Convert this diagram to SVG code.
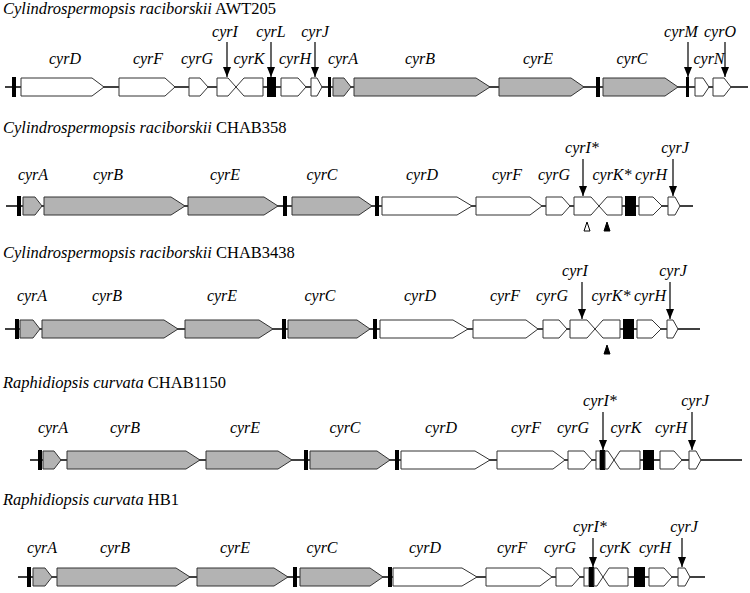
<svg xmlns="http://www.w3.org/2000/svg" width="750" height="593" viewBox="0 0 750 593">
<style>
.ttl{font-family:"Liberation Serif","Times New Roman",serif;font-size:16.5px;fill:#000}
.it{font-style:italic}
.lab{font-family:"Liberation Serif","Times New Roman",serif;font-size:16px;font-style:italic;fill:#000;text-anchor:middle}
.ln{stroke:#000;stroke-width:1.6;fill:none}
.g{fill:#b3b3b3;stroke:#333;stroke-width:1}
.w{fill:#fff;stroke:#333;stroke-width:1}
.bk{fill:#000;stroke:none}
.arr{stroke:#000;stroke-width:1.2;fill:none;marker-end:url(#ah)}
.tri{stroke:#000;stroke-width:1}
</style>
<defs>
<marker id="ah" viewBox="0 0 10 8" refX="10" refY="4" markerWidth="10" markerHeight="8" markerUnits="userSpaceOnUse" orient="auto">
<path d="M0,0 L10,4 L0,8 z" fill="#000"/>
</marker>
</defs>

<!-- Row 1 -->
<g id="row1">
<text class="ttl" x="3" y="14"><tspan class="it">Cylindrospermopsis raciborskii</tspan> AWT205</text>
<line class="ln" x1="5" y1="87" x2="748" y2="87"/>
<rect class="bk" x="12" y="77" width="4" height="20"/>
<g id="r1-cyrD"><polygon class="w" points="21,78 92,78 104,87 92,96 21,96"/><text class="lab" x="65" y="64">cyrD</text></g>
<g id="r1-cyrF"><polygon class="w" points="119,78 165,78 175,87 165,96 119,96"/><text class="lab" x="148" y="64">cyrF</text></g>
<g id="r1-cyrG"><polygon class="w" points="189,78 200,78 208,87 200,96 189,96"/><text class="lab" x="197" y="64">cyrG</text></g>
<g id="r1-cyrI"><polygon class="w" points="217,78 228,78 236,87 228,96 217,96"/><text class="lab" x="225" y="37">cyrI</text></g>
<g id="r1-cyrK"><polygon class="w" points="236,87 244,78 263,78 263,96 244,96"/><text class="lab" x="249" y="64">cyrK</text></g>
<g id="r1-cyrL"><rect class="bk" x="267" y="77" width="9" height="20"/><text class="lab" x="271" y="37">cyrL</text></g>
<g id="r1-cyrH"><polygon class="w" points="281,78 298,78 306,87 298,96 281,96"/><text class="lab" x="295" y="64">cyrH</text></g>
<g id="r1-cyrJ"><polygon class="w" points="311,78 317,78 322,87 317,96 311,96"/><text class="lab" x="315" y="37">cyrJ</text></g>
<rect class="bk" x="328" y="77" width="3" height="20"/>
<g id="r1-cyrA"><polygon class="g" points="333,78 344,78 351,87 344,96 333,96"/><text class="lab" x="343" y="64">cyrA</text></g>
<g id="r1-cyrB"><polygon class="g" points="354,78 476,78 490,87 476,96 354,96"/><text class="lab" x="420" y="64">cyrB</text></g>
<g id="r1-cyrE"><polygon class="g" points="499,78 571,78 584,87 571,96 499,96"/><text class="lab" x="538" y="64">cyrE</text></g>
<rect class="bk" x="596" y="77" width="4" height="20"/>
<g id="r1-cyrC"><polygon class="g" points="603,78 665,78 678,87 665,96 603,96"/><text class="lab" x="632" y="64">cyrC</text></g>
<g id="r1-cyrM"><rect class="bk" x="686" y="77" width="3" height="20"/><text class="lab" x="681" y="37">cyrM</text></g>
<g id="r1-cyrN"><polygon class="w" points="695,78 703,78 709,87 703,96 695,96"/><text class="lab" x="709" y="64">cyrN</text></g>
<g id="r1-cyrO"><polygon class="w" points="713,78 724,78 731,87 724,96 713,96"/><text class="lab" x="720" y="37">cyrO</text></g>
</g>

<!-- Row 2 -->
<g id="row2">
<text class="ttl" x="3" y="133"><tspan class="it">Cylindrospermopsis raciborskii</tspan> CHAB358</text>
<line class="ln" x1="6" y1="206" x2="693" y2="206"/>
<rect class="bk" x="17" y="196" width="4" height="20"/>
<g id="r2-cyrA"><polygon class="g" points="23,197 35,197 42,206 35,215 23,215"/><text class="lab" x="33" y="180">cyrA</text></g>
<g id="r2-cyrB"><polygon class="g" points="44,197 171,197 185,206 171,215 44,215"/><text class="lab" x="108" y="180">cyrB</text></g>
<g id="r2-cyrE"><polygon class="g" points="188,197 264,197 278,206 264,215 188,215"/><text class="lab" x="225" y="180">cyrE</text></g>
<rect class="bk" x="283" y="196" width="4" height="20"/>
<g id="r2-cyrC"><polygon class="g" points="292,197 359,197 372,206 359,215 292,215"/><text class="lab" x="322" y="180">cyrC</text></g>
<rect class="bk" x="375" y="196" width="4" height="20"/>
<g id="r2-cyrD"><polygon class="w" points="382,197 457,197 472,206 457,215 382,215"/><text class="lab" x="422" y="180">cyrD</text></g>
<g id="r2-cyrF"><polygon class="w" points="476,197 530,197 542,206 530,215 476,215"/><text class="lab" x="507" y="180">cyrF</text></g>
<g id="r2-cyrG"><polygon class="w" points="546,197 562,197 570,206 562,215 546,215"/><text class="lab" x="554" y="180">cyrG</text></g>
<g id="r2-cyrI"><polygon class="w" points="574,197 591,197 599,206 591,215 574,215"/><text class="lab" x="582" y="153">cyrI*</text><polygon class="tri" fill="#fff" points="587,222 584,231 590,231"/></g>
<g id="r2-cyrK"><polygon class="w" points="599,206 607,197 622,197 622,215 607,215"/><text class="lab" x="612" y="180">cyrK*</text><polygon class="tri" fill="#000" points="607,222 604,231 610,231"/></g>
<rect class="bk" x="625" y="196" width="11" height="20"/>
<g id="r2-cyrH"><polygon class="w" points="639,197 653,197 662,206 653,215 639,215"/><text class="lab" x="651" y="180">cyrH</text></g>
<g id="r2-cyrJ"><polygon class="w" points="668,197 675,197 680,206 675,215 668,215"/><text class="lab" x="675" y="153">cyrJ</text></g>
</g>

<!-- Row 3 -->
<g id="row3">
<text class="ttl" x="3" y="258"><tspan class="it">Cylindrospermopsis raciborskii</tspan> CHAB3438</text>
<line class="ln" x1="5" y1="329" x2="700" y2="329"/>
<rect class="bk" x="15" y="319" width="4" height="20"/>
<g id="r3-cyrA"><polygon class="g" points="20,320 33,320 40,329 33,338 20,338"/><text class="lab" x="32" y="301">cyrA</text></g>
<g id="r3-cyrB"><polygon class="g" points="42,320 164,320 178,329 164,338 42,338"/><text class="lab" x="107" y="301">cyrB</text></g>
<g id="r3-cyrE"><polygon class="g" points="185,320 259,320 273,329 259,338 185,338"/><text class="lab" x="222" y="301">cyrE</text></g>
<rect class="bk" x="282" y="319" width="4" height="20"/>
<g id="r3-cyrC"><polygon class="g" points="288,320 357,320 370,329 357,338 288,338"/><text class="lab" x="320" y="301">cyrC</text></g>
<rect class="bk" x="373" y="319" width="4" height="20"/>
<g id="r3-cyrD"><polygon class="w" points="380,320 453,320 468,329 453,338 380,338"/><text class="lab" x="420" y="301">cyrD</text></g>
<g id="r3-cyrF"><polygon class="w" points="473,320 526,320 538,329 526,338 473,338"/><text class="lab" x="505" y="301">cyrF</text></g>
<g id="r3-cyrG"><polygon class="w" points="543,320 559,320 567,329 559,338 543,338"/><text class="lab" x="552" y="301">cyrG</text></g>
<g id="r3-cyrI"><polygon class="w" points="570,320 587,320 595,329 587,338 570,338"/><text class="lab" x="575" y="276">cyrI</text></g>
<g id="r3-cyrK"><polygon class="w" points="595,329 603,320 620,320 620,338 603,338"/><text class="lab" x="611" y="301">cyrK*</text><polygon class="tri" fill="#000" points="607,345 604,354 610,354"/></g>
<rect class="bk" x="623" y="319" width="11" height="20"/>
<g id="r3-cyrH"><polygon class="w" points="637,320 652,320 661,329 652,338 637,338"/><text class="lab" x="650" y="301">cyrH</text></g>
<g id="r3-cyrJ"><polygon class="w" points="667,320 673,320 678,329 673,338 667,338"/><text class="lab" x="673" y="276">cyrJ</text></g>
</g>

<!-- Row 4 -->
<g id="row4">
<text class="ttl" x="3" y="388"><tspan class="it">Raphidiopsis curvata</tspan> CHAB1150</text>
<line class="ln" x1="30" y1="460" x2="742" y2="460"/>
<rect class="bk" x="38" y="450" width="4" height="20"/>
<g id="r4-cyrA"><polygon class="g" points="43,451 54,451 61,460 54,469 43,469"/><text class="lab" x="53" y="433">cyrA</text></g>
<g id="r4-cyrB"><polygon class="g" points="67,451 186,451 200,460 186,469 67,469"/><text class="lab" x="125" y="433">cyrB</text></g>
<g id="r4-cyrE"><polygon class="g" points="206,451 278,451 292,460 278,469 206,469"/><text class="lab" x="245" y="433">cyrE</text></g>
<rect class="bk" x="304" y="450" width="4" height="20"/>
<g id="r4-cyrC"><polygon class="g" points="310,451 377,451 390,460 377,469 310,469"/><text class="lab" x="345" y="433">cyrC</text></g>
<rect class="bk" x="395" y="450" width="4" height="20"/>
<g id="r4-cyrD"><polygon class="w" points="401,451 475,451 490,460 475,469 401,469"/><text class="lab" x="441" y="433">cyrD</text></g>
<g id="r4-cyrF"><polygon class="w" points="497,451 553,451 565,460 553,469 497,469"/><text class="lab" x="526" y="433">cyrF</text></g>
<g id="r4-cyrG"><polygon class="w" points="568,451 584,451 592,460 584,469 568,469"/><text class="lab" x="573" y="433">cyrG</text></g>
<g id="r4-cyrI"><rect class="w" x="596" y="451" width="4" height="18"/><rect class="bk" x="600" y="450" width="5" height="20"/><polygon class="w" points="605,451 608,451 614,460 608,469 605,469"/><text class="lab" x="600" y="406">cyrI*</text></g>
<g id="r4-cyrK"><polygon class="w" points="614,460 620,451 640,451 640,469 620,469"/><text class="lab" x="626" y="433">cyrK</text></g>
<rect class="bk" x="643" y="450" width="11" height="20"/>
<g id="r4-cyrH"><polygon class="w" points="660,451 674,451 682,460 674,469 660,469"/><text class="lab" x="671" y="433">cyrH</text></g>
<g id="r4-cyrJ"><polygon class="w" points="689,451 696,451 701,460 696,469 689,469"/><text class="lab" x="695" y="406">cyrJ</text></g>
</g>

<!-- Row 5 -->
<g id="row5">
<text class="ttl" x="3" y="505"><tspan class="it">Raphidiopsis curvata</tspan> HB1</text>
<line class="ln" x1="18" y1="577" x2="705" y2="577"/>
<rect class="bk" x="27" y="567" width="4" height="20"/>
<g id="r5-cyrA"><polygon class="g" points="33,568 45,568 52,577 45,586 33,586"/><text class="lab" x="42" y="553">cyrA</text></g>
<g id="r5-cyrB"><polygon class="g" points="57,568 176,568 190,577 176,586 57,586"/><text class="lab" x="115" y="553">cyrB</text></g>
<g id="r5-cyrE"><polygon class="g" points="197,568 274,568 288,577 274,586 197,586"/><text class="lab" x="235" y="553">cyrE</text></g>
<rect class="bk" x="293" y="567" width="4" height="20"/>
<g id="r5-cyrC"><polygon class="g" points="300,568 370,568 383,577 370,586 300,586"/><text class="lab" x="322" y="553">cyrC</text></g>
<rect class="bk" x="388" y="567" width="4" height="20"/>
<g id="r5-cyrD"><polygon class="w" points="393,568 462,568 477,577 462,586 393,586"/><text class="lab" x="425" y="553">cyrD</text></g>
<g id="r5-cyrF"><polygon class="w" points="486,568 540,568 552,577 540,586 486,586"/><text class="lab" x="512" y="553">cyrF</text></g>
<g id="r5-cyrG"><polygon class="w" points="556,568 572,568 580,577 572,586 556,586"/><text class="lab" x="560" y="553">cyrG</text></g>
<g id="r5-cyrI"><rect class="w" x="584" y="568" width="5" height="18"/><rect class="bk" x="589" y="567" width="5" height="20"/><polygon class="w" points="594,568 597,568 603,577 597,586 594,586"/><text class="lab" x="590" y="532">cyrI*</text></g>
<g id="r5-cyrK"><polygon class="w" points="603,577 609,568 628,568 628,586 609,586"/><text class="lab" x="615" y="553">cyrK</text></g>
<rect class="bk" x="634" y="567" width="11" height="20"/>
<g id="r5-cyrH"><polygon class="w" points="649,568 664,568 672,577 664,586 649,586"/><text class="lab" x="655" y="553">cyrH</text></g>
<g id="r5-cyrJ"><polygon class="w" points="678,568 685,568 690,577 685,586 678,586"/><text class="lab" x="684" y="532">cyrJ</text></g>
</g>

<!-- Connectors -->
<g id="connectors">
<line class="arr" x1="227" y1="42" x2="227" y2="77"/>
<line class="arr" x1="271" y1="42" x2="271" y2="77"/>
<line class="arr" x1="315" y1="42" x2="315" y2="77"/>
<line class="arr" x1="688" y1="42" x2="688" y2="77"/>
<line class="arr" x1="725" y1="42" x2="725" y2="77"/>
<line class="arr" x1="583" y1="159" x2="583" y2="196"/>
<line class="arr" x1="673" y1="159" x2="673" y2="196"/>
<line class="arr" x1="582" y1="282" x2="582" y2="319"/>
<line class="arr" x1="670" y1="282" x2="670" y2="319"/>
<line class="arr" x1="603" y1="412" x2="603" y2="450"/>
<line class="arr" x1="692" y1="412" x2="692" y2="450"/>
<line class="arr" x1="593" y1="538" x2="593" y2="567"/>
<line class="arr" x1="682" y1="538" x2="682" y2="567"/>
</g>
</svg>
